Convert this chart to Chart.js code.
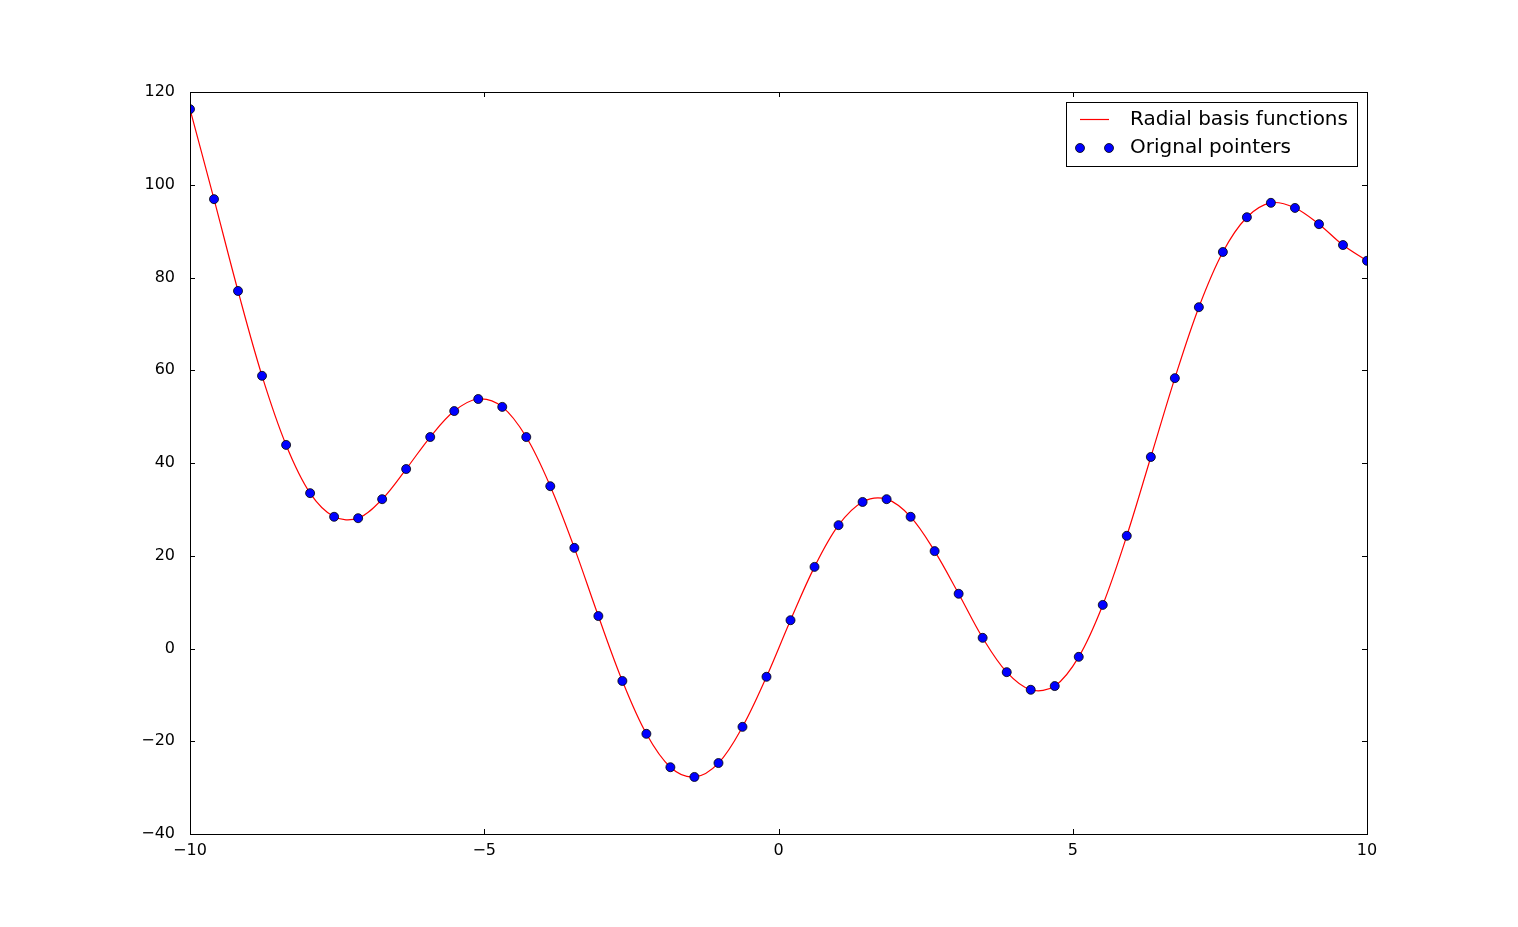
<!DOCTYPE html>
<html>
<head>
<meta charset="utf-8">
<script src="https://cdn.jsdelivr.net/npm/chart.js@4/dist/chart.umd.min.js"></script>
<style>
  body { margin: 0; background: #fff; }
  canvas { display: block; }
</style>
</head>
<body>
<canvas id="rbfChart" width="1518" height="927"></canvas>
<script>
// sample positions (linspace -10..10, 50 points)
const xValues = [
  -10, -9.592, -9.184, -8.776, -8.367, -7.959, -7.551, -7.143, -6.735, -6.327,
  -5.918, -5.510, -5.102, -4.694, -4.286, -3.878, -3.469, -3.061, -2.653, -2.245,
  -1.837, -1.429, -1.020, -0.612, -0.204, 0.204, 0.612, 1.020, 1.429, 1.837,
  2.245, 2.653, 3.061, 3.469, 3.878, 4.286, 4.694, 5.102, 5.510, 5.918,
  6.327, 6.735, 7.143, 7.551, 7.959, 8.367, 8.776, 9.184, 9.592, 10
];
// values
const yValues = [
  116.3, 96.9, 77.1, 58.8, 43.9, 33.5, 28.4, 28.1, 32.2, 38.7,
  45.6, 51.2, 53.8, 52.1, 45.6, 35.0, 21.7, 7.0, -7.0, -18.4,
  -25.6, -27.7, -24.7, -16.9, -6.1, 6.1, 17.6, 26.6, 31.6, 32.2,
  28.4, 21.0, 11.8, 2.3, -5.1, -8.9, -8.1, -1.8, 9.4, 24.3,
  41.3, 58.3, 73.6, 85.5, 93.0, 96.1, 95.0, 91.5, 87.0, 83.6
];
const xTicks = [-10, -5, 0, 5, 10];
const yTicks = [-40, -20, 0, 20, 40, 60, 80, 100, 120];
const legendLabels = ['Radial basis functions', 'Orignal pointers'];

const pts = xValues.map((x, i) => ({ x: x, y: yValues[i] }));
const FONT = 'DejaVu Sans';
const fmt = v => String(v).replace('-', '\u2212');

// frame, inward ticks on all sides and the legend box
const mplDecor = {
  id: 'mplDecor',
  afterDraw(chart) {
    const c = chart.ctx, a = chart.chartArea;
    const xs = chart.scales.x, ys = chart.scales.y;
    c.save();
    c.strokeStyle = '#000';
    c.lineWidth = 1;
    c.beginPath();
    xTicks.forEach(t => {
      const px = Math.round(xs.getPixelForValue(t)) + 0.5;
      c.moveTo(px, a.bottom); c.lineTo(px, a.bottom - 5);
      c.moveTo(px, a.top); c.lineTo(px, a.top + 5);
    });
    yTicks.forEach(t => {
      const py = Math.round(ys.getPixelForValue(t)) + 0.5;
      c.moveTo(a.left, py); c.lineTo(a.left + 5, py);
      c.moveTo(a.right, py); c.lineTo(a.right - 5, py);
    });
    c.stroke();
    c.strokeRect(Math.round(a.left) + 0.5, Math.round(a.top) + 0.5,
      Math.round(a.right - a.left), Math.round(a.bottom - a.top));

    // legend
    const lx = 1066, ly = 102, lw = 291, lh = 64;
    c.fillStyle = '#fff';
    c.fillRect(lx, ly, lw, lh);
    c.strokeRect(lx + 0.5, ly + 0.5, lw, lh);
    c.strokeStyle = '#ff0000';
    c.lineWidth = 1.2;
    c.beginPath();
    c.moveTo(1080, 119.5); c.lineTo(1109, 119.5);
    c.stroke();
    c.fillStyle = '#0000ff';
    c.strokeStyle = '#000';
    c.lineWidth = 0.8;
    [1080, 1109].forEach(px => {
      c.beginPath();
      c.arc(px, 148, 4.5, 0, Math.PI * 2);
      c.fill(); c.stroke();
    });
    c.fillStyle = '#000';
    c.font = '20px "' + FONT + '"';
    c.textBaseline = 'middle';
    c.textAlign = 'left';
    c.fillText(legendLabels[0], 1130, 120);
    c.fillText(legendLabels[1], 1130, 148);
    c.restore();
  }
};

new Chart(document.getElementById('rbfChart').getContext('2d'), {
  type: 'scatter',
  data: {
    datasets: [
      {
        label: legendLabels[1],
        data: pts,
        showLine: false,
        pointRadius: 4.5,
        pointBackgroundColor: '#0000ff',
        pointBorderColor: '#000',
        pointBorderWidth: 0.8,
        clip: 0,
        order: 0
      },
      {
        label: legendLabels[0],
        data: pts,
        showLine: true,
        borderColor: '#ff0000',
        borderWidth: 1.2,
        tension: 0.35,
        pointRadius: 0,
        clip: 0,
        order: 1
      }
    ]
  },
  options: {
    responsive: false,
    animation: false,
    layout: { padding: { top: 92, right: 151, left: 0, bottom: 0 } },
    plugins: { legend: { display: false }, tooltip: { enabled: false } },
    scales: {
      x: {
        type: 'linear',
        min: -10, max: 10,
        afterBuildTicks: s => { s.ticks = xTicks.map(v => ({ value: v })); },
        afterFit: s => { s.height = 93; },
        grid: { display: false },
        border: { display: false },
        ticks: {
          padding: -1,
          color: '#000',
          font: { family: FONT, size: 16 },
          maxRotation: 0,
          callback: fmt
        }
      },
      y: {
        type: 'linear',
        min: -40, max: 120,
        afterBuildTicks: s => { s.ticks = yTicks.map(v => ({ value: v })); },
        afterFit: s => { s.width = 190; },
        grid: { display: false },
        border: { display: false },
        ticks: {
          padding: 7,
          color: '#000',
          font: { family: FONT, size: 16 },
          callback: fmt
        }
      }
    }
  },
  plugins: [mplDecor]
});
</script>
</body>
</html>
